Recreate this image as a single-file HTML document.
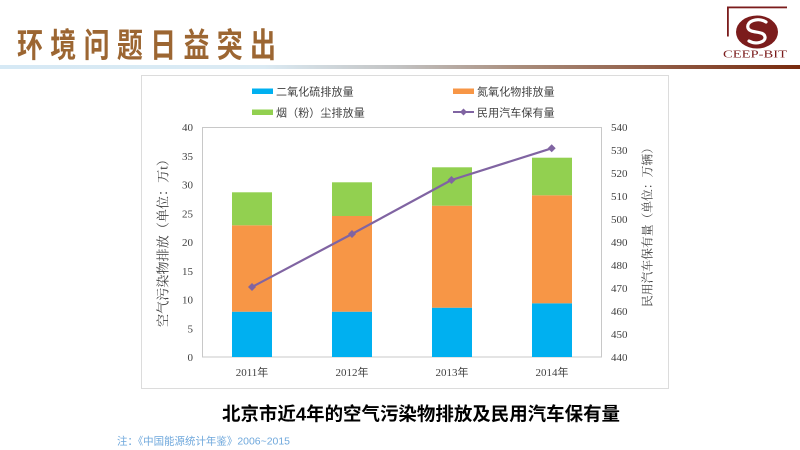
<!DOCTYPE html>
<html>
<head>
<meta charset="utf-8">
<style>
  html,body{margin:0;padding:0;background:#fff;}
  body{width:800px;height:450px;overflow:hidden;position:relative;}
  svg{display:block;}
</style>
</head>
<body>
<svg width="800" height="450" viewBox="0 0 800 450" xmlns="http://www.w3.org/2000/svg">
  <defs>
    <linearGradient id="sep" x1="0" y1="0" x2="1" y2="0">
      <stop offset="0" stop-color="#d6e9f5"/>
      <stop offset="0.33" stop-color="#dbeaf3"/>
      <stop offset="0.5" stop-color="#c2c2c2"/>
      <stop offset="0.65" stop-color="#a98d7c"/>
      <stop offset="1" stop-color="#782a0e"/>
    </linearGradient>
  </defs>

  <!-- Header title -->
  <g transform="translate(17,57) scale(1,1.3)">
    <text x="0" y="0" font-family="'Liberation Sans','Noto Sans CJK SC',sans-serif" font-weight="bold" font-size="26" fill="#9c6632" letter-spacing="7.3">环境问题日益突出</text>
  </g>

  <!-- separator line -->
  <rect x="0" y="65" width="800" height="4" fill="url(#sep)"/>

  <!-- Logo -->
  <g fill="#7b1c1c" stroke="none">
    <rect x="727" y="6.5" width="60" height="1.8"/>
    <rect x="727" y="6.5" width="1.8" height="30"/>
    <ellipse cx="757" cy="32" rx="21" ry="16.5"/>
  </g>
  <path d="M766 22 C758 17 746 21 748 28 C750 34 764 30 765 37 C766 42 756 45 749 41" fill="none" stroke="#fff" stroke-width="3.2" stroke-linecap="round"/>
  <text x="723" y="57.5" font-family="'Liberation Serif',serif" font-size="10.5" fill="#7b1c1c" textLength="64" lengthAdjust="spacingAndGlyphs">CEEP-BIT</text>

  <!-- Chart frame -->
  <rect x="141.5" y="75.5" width="527" height="313" fill="#fff" stroke="#dcdcdc" stroke-width="1"/>

  <!-- Legend -->
  <g font-family="'Liberation Sans','Noto Sans CJK SC',sans-serif" font-size="11" fill="#404040">
    <rect x="252" y="88.5" width="21" height="5.5" fill="#00b0f0"/>
    <text x="276" y="95.5" letter-spacing="0.1">二氧化硫排放量</text>
    <rect x="453" y="88.5" width="21" height="5.5" fill="#f79646"/>
    <text x="477" y="95.5" letter-spacing="0.1">氮氧化物排放量</text>
    <rect x="252" y="109.5" width="21" height="5.5" fill="#92d050"/>
    <text x="276" y="116.5" letter-spacing="0.1">烟（粉）尘排放量</text>
    <line x1="453" y1="112" x2="474" y2="112" stroke="#8064a2" stroke-width="2"/>
    <path d="M463.5 108.5 L467 112 L463.5 115.5 L460 112 Z" fill="#8064a2"/>
    <text x="477" y="116.5" letter-spacing="0.1">民用汽车保有量</text>
  </g>

  <!-- Plot area border -->
  <rect x="202.5" y="127.5" width="399" height="229.5" fill="none" stroke="#c8c8c8" stroke-width="1"/>

  <!-- Bars -->
  <g>
    <!-- 2011 -->
    <rect x="232" y="311.7" width="40" height="45.3" fill="#00b0f0"/>
    <rect x="232" y="225.3" width="40" height="86.4" fill="#f79646"/>
    <rect x="232" y="192.3" width="40" height="33" fill="#92d050"/>
    <!-- 2012 -->
    <rect x="332" y="311.7" width="40" height="45.3" fill="#00b0f0"/>
    <rect x="332" y="216" width="40" height="95.7" fill="#f79646"/>
    <rect x="332" y="182.3" width="40" height="33.7" fill="#92d050"/>
    <!-- 2013 -->
    <rect x="432" y="307.7" width="40" height="49.3" fill="#00b0f0"/>
    <rect x="432" y="205.7" width="40" height="102" fill="#f79646"/>
    <rect x="432" y="167.3" width="40" height="38.4" fill="#92d050"/>
    <!-- 2014 -->
    <rect x="532" y="303.3" width="40" height="53.7" fill="#00b0f0"/>
    <rect x="532" y="195.3" width="40" height="108" fill="#f79646"/>
    <rect x="532" y="157.7" width="40" height="37.6" fill="#92d050"/>
  </g>

  <!-- Line series -->
  <polyline points="252,287 352,234 451.5,180 551.7,148.3" fill="none" stroke="#8064a2" stroke-width="2.2" stroke-linejoin="round"/>
  <g fill="#8064a2">
    <path d="M252 283 L256 287 L252 291 L248 287 Z"/>
    <path d="M352 230 L356 234 L352 238 L348 234 Z"/>
    <path d="M451.5 176 L455.5 180 L451.5 184 L447.5 180 Z"/>
    <path d="M551.7 144.3 L555.7 148.3 L551.7 152.3 L547.7 148.3 Z"/>
  </g>

  <!-- Left axis labels -->
  <g font-family="'Liberation Serif',serif" font-size="11" fill="#404040" text-anchor="end">
    <text x="193" y="361">0</text>
    <text x="193" y="332.3">5</text>
    <text x="193" y="303.5">10</text>
    <text x="193" y="274.8">15</text>
    <text x="193" y="246">20</text>
    <text x="193" y="217.3">25</text>
    <text x="193" y="188.5">30</text>
    <text x="193" y="159.8">35</text>
    <text x="193" y="131">40</text>
  </g>

  <!-- Right axis labels -->
  <g font-family="'Liberation Serif',serif" font-size="11" fill="#404040" text-anchor="start">
    <text x="611" y="361">440</text>
    <text x="611" y="338">450</text>
    <text x="611" y="315">460</text>
    <text x="611" y="292">470</text>
    <text x="611" y="269">480</text>
    <text x="611" y="246">490</text>
    <text x="611" y="223">500</text>
    <text x="611" y="200">510</text>
    <text x="611" y="177">520</text>
    <text x="611" y="154">530</text>
    <text x="611" y="131">540</text>
  </g>

  <!-- X labels -->
  <g font-family="'Liberation Serif','Noto Sans CJK SC',serif" font-size="11" fill="#404040" text-anchor="middle">
    <text x="252" y="376">2011年</text>
    <text x="352" y="376">2012年</text>
    <text x="452" y="376">2013年</text>
    <text x="552" y="376">2014年</text>
  </g>

  <!-- Axis titles -->
  <text transform="translate(167.5,240) rotate(-90)" text-anchor="middle" font-family="'Liberation Serif','Noto Serif CJK SC',serif" font-size="13" fill="#404040" textLength="174" lengthAdjust="spacingAndGlyphs">空气污染物排放（单位：万t）</text>
  <text transform="translate(651.5,224.5) rotate(-90)" text-anchor="middle" font-family="'Liberation Serif','Noto Serif CJK SC',serif" font-size="12" fill="#404040" textLength="165" lengthAdjust="spacingAndGlyphs">民用汽车保有量（单位：万辆）</text>

  <!-- Bottom title -->
  <text x="222" y="420.5" font-family="'Liberation Sans','Noto Sans CJK SC',sans-serif" font-weight="bold" font-size="18.5" fill="#000" textLength="398" lengthAdjust="spacingAndGlyphs">北京市近4年的空气污染物排放及民用汽车保有量</text>

  <!-- Note -->
  <text x="117" y="444.5" font-family="'Liberation Sans','Noto Sans CJK SC',sans-serif" font-size="10.5" fill="#6fa8dc" textLength="173" lengthAdjust="spacingAndGlyphs">注：《中国能源统计年鉴》2006~2015</text>
</svg>
</body>
</html>
